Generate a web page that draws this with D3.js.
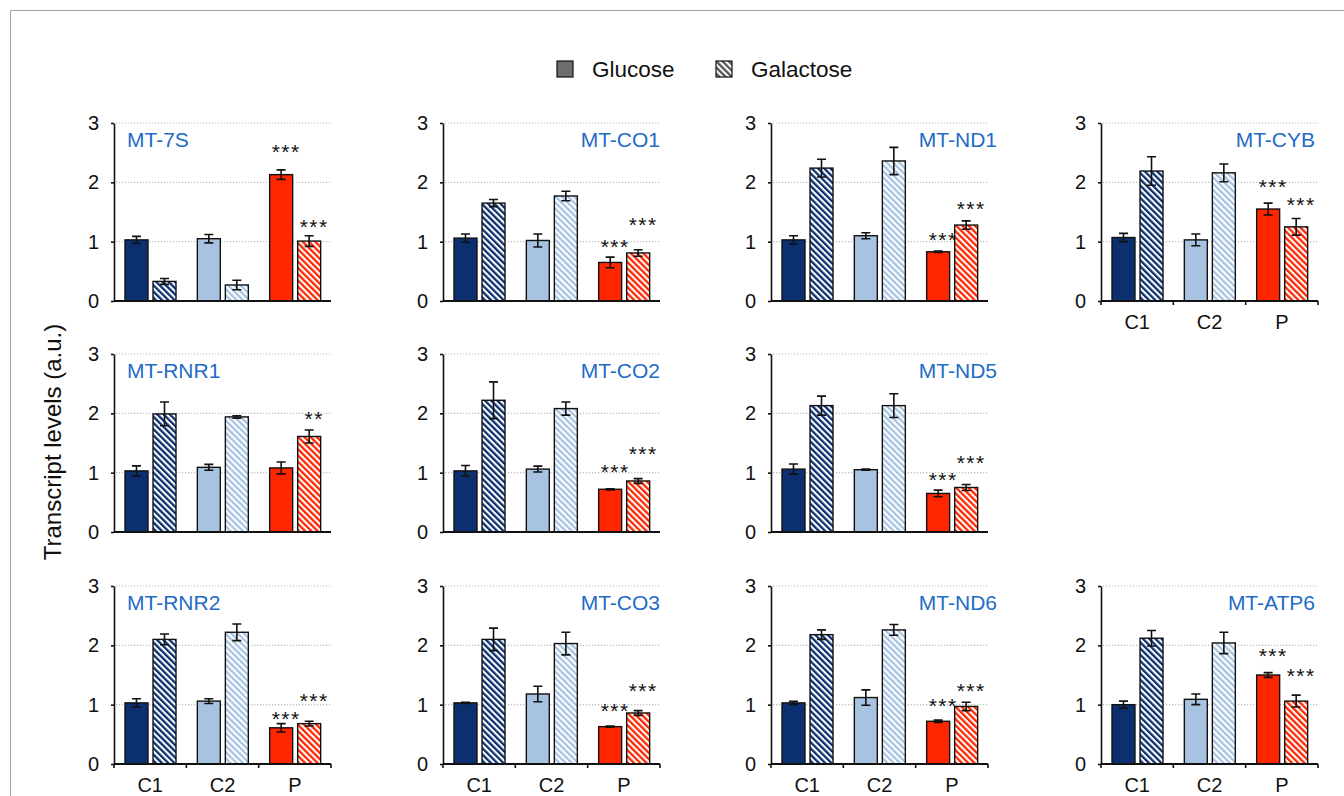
<!DOCTYPE html>
<html>
<head>
<meta charset="utf-8">
<script src="https://cdn.jsdelivr.net/npm/d3@7"></script>
<style>
  html, body { margin: 0; padding: 0; background: #fff; }
  svg { display: block; font-family: "Liberation Sans", Arial, Helvetica, sans-serif; }
</style>
</head>
<body>
<script>
// ---------------- DATA ----------------
const groups = ["C1", "C2", "P"];
const media = ["Glucose", "Galactose"];
const yTicks = [0, 1, 2, 3];
const genes = ["MT-7S", "MT-CO1", "MT-ND1", "MT-CYB", "MT-RNR1", "MT-CO2", "MT-ND5",
               "MT-RNR2", "MT-CO3", "MT-ND6", "MT-ATP6"];
// means per gene: [C1, C2, P]
const glucoseMean = [
  [1.03, 1.05, 2.13], [1.06, 1.02, 0.65], [1.03, 1.10, 0.83], [1.07, 1.03, 1.55],
  [1.03, 1.09, 1.08], [1.03, 1.06, 0.72], [1.06, 1.05, 0.65],
  [1.03, 1.06, 0.61], [1.03, 1.18, 0.63], [1.03, 1.12, 0.72], [1.00, 1.09, 1.50]
];
const glucoseErr = [
  [0.06, 0.07, 0.08], [0.07, 0.11, 0.09], [0.07, 0.05, 0.01], [0.07, 0.10, 0.10],
  [0.085, 0.05, 0.10], [0.09, 0.05, 0.01], [0.085, 0.01, 0.055],
  [0.07, 0.04, 0.07], [0.01, 0.13, 0.01], [0.025, 0.13, 0.02], [0.06, 0.09, 0.04]
];
const galactoseMean = [
  [0.33, 0.27, 1.01], [1.65, 1.77, 0.81], [2.24, 2.36, 1.28], [2.19, 2.16, 1.25],
  [1.99, 1.94, 1.61], [2.22, 2.08, 0.86], [2.13, 2.13, 0.75],
  [2.10, 2.22, 0.68], [2.10, 2.03, 0.86], [2.18, 2.26, 0.97], [2.12, 2.04, 1.06]
];
const galactoseErr = [
  [0.05, 0.08, 0.09], [0.06, 0.08, 0.055], [0.15, 0.23, 0.07], [0.24, 0.15, 0.14],
  [0.20, 0.02, 0.11], [0.31, 0.11, 0.04], [0.16, 0.20, 0.05],
  [0.09, 0.14, 0.04], [0.19, 0.19, 0.04], [0.08, 0.09, 0.07], [0.13, 0.18, 0.10]
];
// significance markers for the P group (label, level of marker centre in a.u.)
const sigGlucose = ["***", "***", "***", "***", "", "***", "***", "***", "***", "***", "***"];
const sigGlucoseLevel = [2.60, 1.00, 1.12, 2.01, 0, 1.10, 0.97, 0.85, 0.98, 1.07, 1.91];
const sigGalactose = ["***", "***", "***", "***", "**", "***", "***", "***", "***", "***", "***"];
const sigGalactoseLevel = [1.33, 1.37, 1.63, 1.71, 2.00, 1.40, 1.25, 1.15, 1.32, 1.32, 1.57];
const yLabel = "Transcript levels (a.u.)";

// ---------------- LAYOUT / STYLE ----------------
const panelCell = [[0,0],[0,1],[0,2],[0,3],[1,0],[1,1],[1,2],[2,0],[2,1],[2,2],[2,3]];
const colX = [114, 443, 771, 1101];
const rowY = [123, 354, 586];
const pw = 217, ph = 178;
const titleAnchor = [{a: "start", dx: 13}, {a: "end", dx: 217}, {a: "end", dx: 226}, {a: "end", dx: 214}];
const solidColors = ["#0b2f6f", "#a7c3e1", "#ff2600"];
const titleColor = "#1f6bc6";
const starSize = 21;

const svg = d3.select("body").append("svg").attr("width", 1344).attr("height", 796);

// frame
svg.append("path").attr("d", "M10.5,796 L10.5,10.5 L1344,10.5")
  .attr("fill", "none").attr("stroke", "#a3a3a3").attr("stroke-width", 1);

// patterns
const defs = svg.append("defs");
function hatch(id, color) {
  const p = defs.append("pattern").attr("id", id).attr("patternUnits", "userSpaceOnUse")
    .attr("width", 4.4).attr("height", 4.4).attr("patternTransform", "rotate(-45)");
  p.append("rect").attr("width", 4.4).attr("height", 4.4).attr("fill", "#fff");
  p.append("rect").attr("width", 2.3).attr("height", 4.4).attr("fill", color);
}
solidColors.forEach((c, i) => hatch("hatch" + i, c));
hatch("hatchLegend", "#555");

// legend
const legend = svg.append("g");
const legX = [557, 716];
media.forEach((m, i) => {
  legend.append("rect").attr("x", legX[i]).attr("y", 61).attr("width", 16).attr("height", 16)
    .attr("fill", i === 0 ? "#6e6e6e" : "url(#hatchLegend)")
    .attr("stroke", "#111").attr("stroke-width", 1.2);
  legend.append("text").attr("x", legX[i] + 35).attr("y", 77).attr("font-size", 22.5)
    .attr("fill", "#111").text(m);
});

// y label
svg.append("text").attr("transform", "translate(61,442) rotate(-90)")
  .attr("text-anchor", "middle").attr("font-size", 24).attr("fill", "#111").text(yLabel);

const y = d3.scaleLinear().domain([0, 3]).range([ph, 0]);
const x0 = d3.scaleBand().domain(groups).range([0, pw]).padding(0);
const x1 = d3.scaleBand().domain(media).range([11, 62]).paddingInner(0.18).paddingOuter(0);

genes.forEach((gene, gi) => {
  const [r, c] = panelCell[gi];
  const g = svg.append("g").attr("transform", `translate(${colX[c]},${rowY[r]})`);
  const hasLabels = (r === 2) || (gene === "MT-CYB");

  // grid
  g.selectAll(".grid").data(yTicks.filter(t => t > 0)).enter().append("line")
    .attr("x1", 2).attr("x2", pw).attr("y1", d => y(d)).attr("y2", d => y(d))
    .attr("stroke", "#bdbdbd").attr("stroke-width", 1.2).attr("stroke-dasharray", "1.2,1.8");

  // y axis
  const ya = g.append("g").call(d3.axisLeft(y).tickValues(yTicks).tickSize(3).tickSizeOuter(0).tickPadding(12).tickFormat(d3.format("d")));
  ya.attr("font-size", 20);
  ya.select(".domain").attr("stroke", "#111").attr("stroke-width", 1.6);
  ya.selectAll(".tick line").attr("stroke", "#111").attr("stroke-width", 1.6);
  ya.selectAll(".tick text").attr("font-size", 20).attr("fill", "#111")
    .attr("font-family", "'Liberation Sans', Arial, sans-serif");

  // bars
  groups.forEach((grp, k) => {
    const vals = [glucoseMean[gi][k], galactoseMean[gi][k]];
    const errs = [glucoseErr[gi][k], galactoseErr[gi][k]];
    media.forEach((m, mi) => {
      const bx = x0(grp) + x1(m);
      const bw = x1.bandwidth();
      g.append("rect").attr("x", bx).attr("y", y(vals[mi])).attr("width", bw)
        .attr("height", y(0) - y(vals[mi]))
        .attr("fill", mi === 0 ? solidColors[k] : `url(#hatch${k})`)
        .attr("stroke", "#111").attr("stroke-width", 1.4);
      const cx = bx + bw / 2;
      const top = y(vals[mi] + errs[mi]), bot = y(vals[mi] - errs[mi]);
      g.append("path")
        .attr("d", `M${cx},${top}V${bot}M${cx - 4.5},${top}H${cx + 4.5}M${cx - 4.5},${bot}H${cx + 4.5}`)
        .attr("stroke", "#111").attr("stroke-width", 1.6).attr("fill", "none");
      if (k === 2) {
        const lab = mi === 0 ? sigGlucose[gi] : sigGalactose[gi];
        const lev = mi === 0 ? sigGlucoseLevel[gi] : sigGalactoseLevel[gi];
        if (lab) {
          g.append("text").attr("x", cx + 5).attr("y", y(lev) + starSize * 0.58)
            .attr("text-anchor", "middle").attr("font-size", starSize).attr("letter-spacing", 1.5)
            .attr("fill", "#111").text(lab);
        }
      }
    });
  });

  // x axis
  g.append("line").attr("x1", 0).attr("x2", pw).attr("y1", y(0)).attr("y2", y(0))
    .attr("stroke", "#111").attr("stroke-width", 2);
  if (hasLabels) {
    const bounds = groups.map(d => x0(d)).concat([x0(groups[groups.length - 1]) + x0.bandwidth()]);
    g.selectAll(".xt").data(bounds).enter().append("line")
      .attr("x1", d => d).attr("x2", d => d).attr("y1", y(0)).attr("y2", y(0) + 4)
      .attr("stroke", "#111").attr("stroke-width", 1.6);
    g.selectAll(".xl").data(groups).enter().append("text")
      .attr("x", d => x0(d) + x0.bandwidth() / 2).attr("y", y(0) + 28)
      .attr("text-anchor", "middle").attr("font-size", 20).attr("fill", "#111").text(d => d);
  }

  // title
  const ta = titleAnchor[c];
  g.append("text").attr("x", ta.dx).attr("y", 24).attr("text-anchor", ta.a)
    .attr("font-size", 21).attr("fill", titleColor).text(gene);
});
</script>
</body>
</html>
